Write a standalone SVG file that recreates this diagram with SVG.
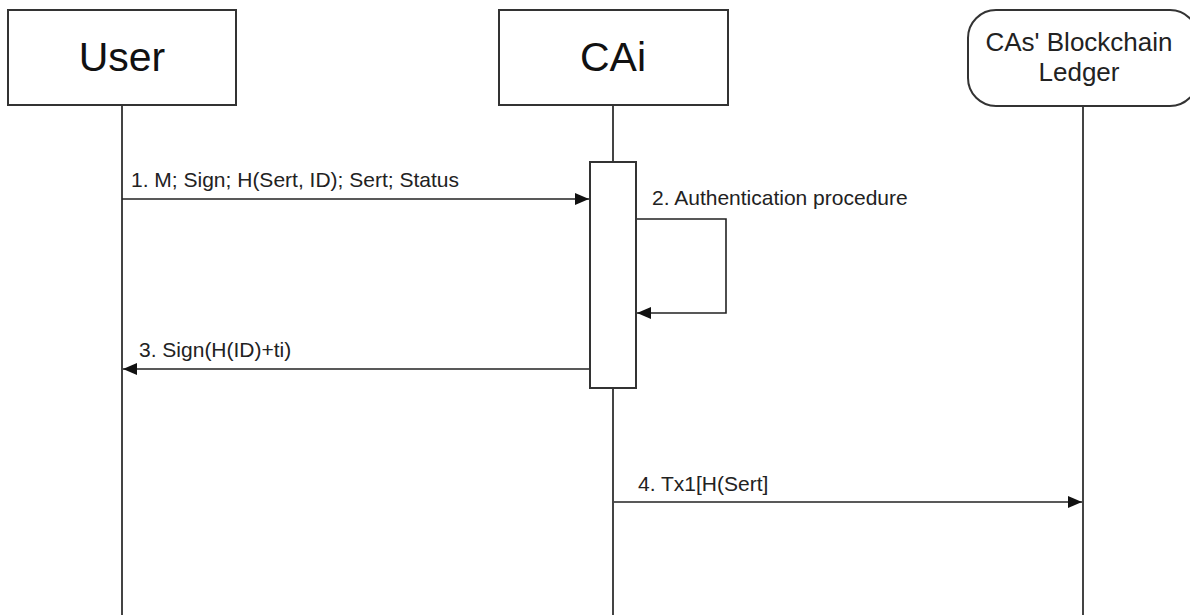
<svg xmlns="http://www.w3.org/2000/svg" width="1190" height="615" viewBox="0 0 1190 615">
<style>
.box{fill:#fff;stroke:#333;stroke-width:2}
.life{stroke:#444;stroke-width:2;fill:none}
.msg{stroke:#222;stroke-width:1.6;fill:none}
.title{font-family:"Liberation Sans",Arial,sans-serif;font-size:41px;fill:#111;text-anchor:middle}
.title2{font-family:"Liberation Sans",Arial,sans-serif;font-size:26px;fill:#222;text-anchor:middle}
.lbl{font-family:"Liberation Sans",Arial,sans-serif;font-size:21px;fill:#222}
</style>
<defs>
<marker id="ah" markerWidth="14" markerHeight="12" refX="14" refY="6" orient="auto" markerUnits="userSpaceOnUse">
<path d="M0,0 L14,6 L0,12 Z" fill="#111"/>
</marker>
</defs>
<g id="lifelines">
<line class="life" x1="122" y1="106" x2="122" y2="615"/>
<line class="life" x1="613" y1="106" x2="613" y2="615"/>
<line class="life" x1="1083" y1="107" x2="1083" y2="615"/>
</g>
<g id="user">
<rect class="box" x="8" y="10" width="228" height="95"/>
<text class="title" x="122" y="71">User</text>
</g>
<g id="cai">
<rect class="box" x="499" y="10" width="229" height="95"/>
<text class="title" x="613" y="71">CAi</text>
</g>
<g id="ledger">
<rect class="box" x="968" y="10" width="230" height="96" rx="28" ry="28"/>
<text class="title2" x="1079" y="51">CAs' Blockchain</text>
<text class="title2" x="1079" y="81">Ledger</text>
</g>
<g id="activation">
<rect class="box" x="590" y="162" width="46" height="226"/>
</g>
<g id="connectors">
<line class="msg" x1="122" y1="199" x2="589" y2="199" marker-end="url(#ah)"/>
<polyline class="msg" points="637,219 726,219 726,313 637,313" marker-end="url(#ah)"/>
<line class="msg" x1="589" y1="369" x2="123" y2="369" marker-end="url(#ah)"/>
<line class="msg" x1="614" y1="502" x2="1082" y2="502" marker-end="url(#ah)"/>
</g>
<g id="labels">
<text class="lbl" x="131" y="187">1. M; Sign; H(Sert, ID); Sert; Status</text>
<text class="lbl" x="652" y="205">2. Authentication procedure</text>
<text class="lbl" x="139" y="357">3. Sign(H(ID)+ti)</text>
<text class="lbl" x="638" y="491">4. Tx1[H(Sert]</text>
</g>
</svg>
